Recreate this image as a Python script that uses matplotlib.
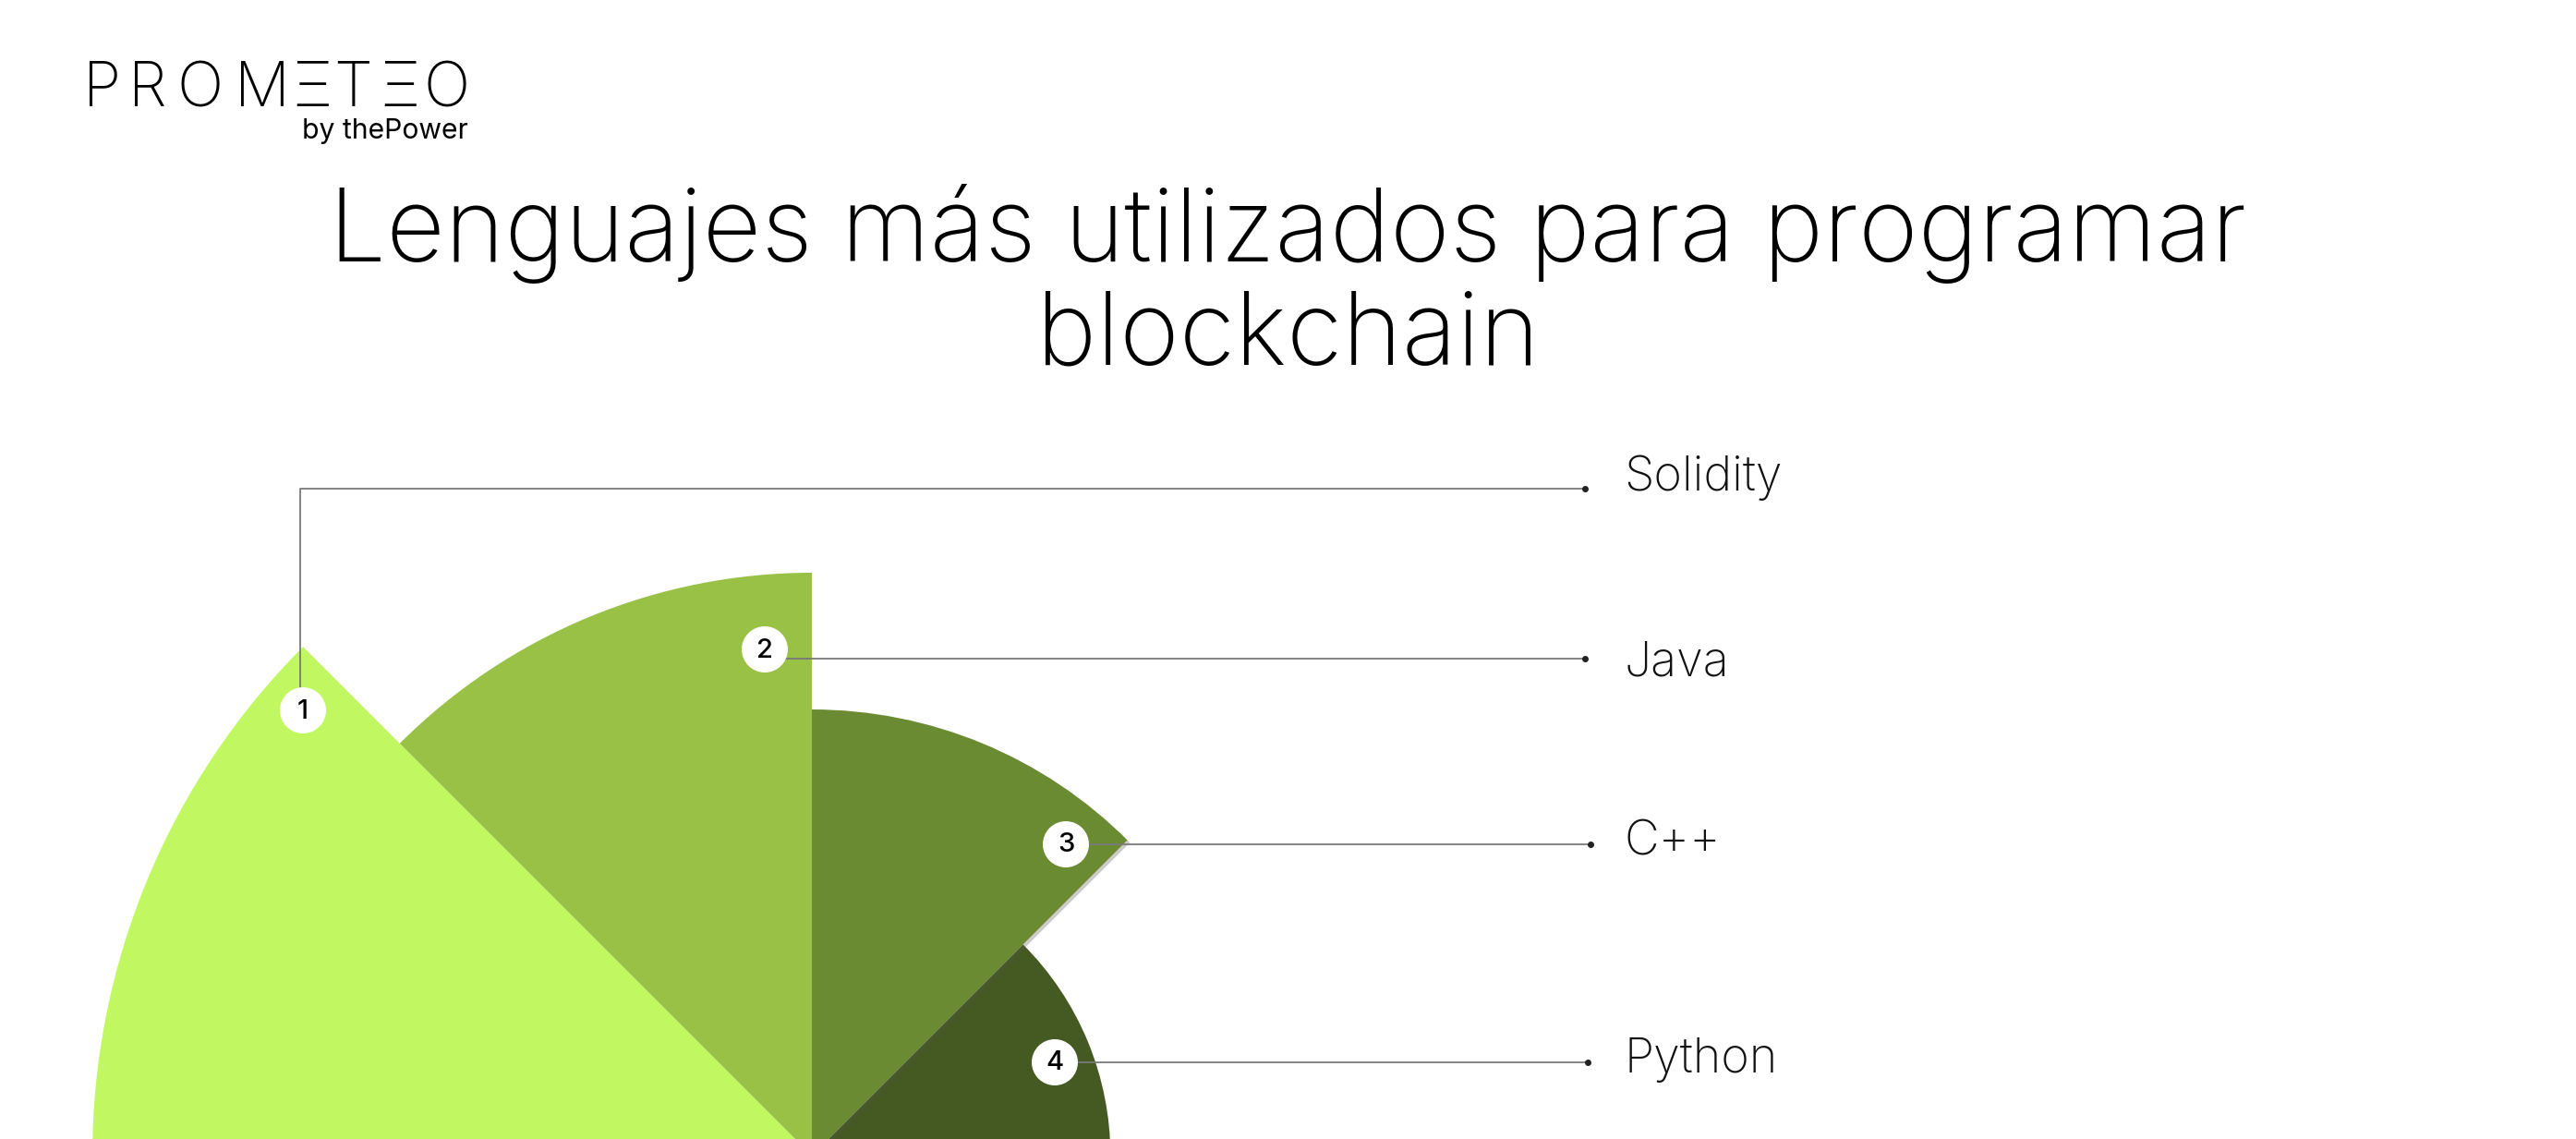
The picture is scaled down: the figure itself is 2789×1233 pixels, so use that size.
import numpy as np
import matplotlib
matplotlib.use('Agg')
import matplotlib.pyplot as plt
from matplotlib.patches import Circle
import matplotlib.patheffects as pe

# ---- data ----
languages = ['Solidity', 'Java', 'C++', 'Python']
ranks = ['1', '2', '3', '4']
values = [100, 81, 62, 41.5]
colors = ['#C1F760', '#98C146', '#6A8B32', '#455A22']
title_lines = ['Lenguajes más utilizados para programar', 'blockchain']
brand_letters = ['P', 'R', 'O', 'M', 'Ξ', 'T', 'Ξ', 'O']
brand_sub = 'by thePower'

FONT = ['Inter', 'DejaVu Sans']
plt.rcParams['font.family'] = FONT

W, H = 2789, 1233
fig = plt.figure(figsize=(W / 100, H / 100), dpi=100)
fig.patch.set_facecolor('white')

# ---- polar rose (half) ----
cx, cy = 879, 1251          # centre in pixels (top-down)
Rpx = 800
rmax = values[0] * Rpx / 779
ax = fig.add_axes([(cx - Rpx) / W, (H - cy - Rpx) / H, 2 * Rpx / W, 2 * Rpx / H],
                  projection='polar')
n = len(values)
width = np.pi / n
theta = np.pi - width * (np.arange(n) + 0.5)
bars = ax.bar(theta, values, width=width, bottom=0, color=colors,
              edgecolor='none', linewidth=0, align='center')
bars[2].set_zorder(3)
bars[2].set_path_effects([pe.SimplePatchShadow(offset=(2, -2), shadow_rgbFace='#555555', alpha=0.3),
                          pe.Normal()])
ax.set_ylim(0, rmax)
ax.set_axis_off()

# ---- overlay in pixel coords ----
ov = fig.add_axes([0, 0, 1, 1])
ov.set_xlim(0, W)
ov.set_ylim(H, 0)
ov.set_axis_off()
renderer = fig.canvas.get_renderer()


def fit_width(txt, target):
    w = txt.get_window_extent(renderer=renderer).width
    txt.set_fontsize(txt.get_fontsize() * target / w)
    return txt.get_fontsize()


line_col = '#7a7a7a'
marker_xy = [(328, 769), (828, 703), (1154, 914), (1142, 1150)]
leaders = [
    [(325, 760), (325, 529), (1716, 529)],
    [(840, 713), (1716, 713)],
    [(1160, 914), (1722, 914)],
    [(1150, 1150), (1719, 1150)],
]
label_xy = [(1758, 531), (1758, 731), (1758, 925), (1758, 1161)]

label_texts = []
for i, lang in enumerate(languages):
    pts = np.array(leaders[i])
    ov.plot(pts[:, 0], pts[:, 1], color=line_col, lw=1.3, solid_capstyle='butt', zorder=2)
    ov.plot(pts[-1, 0], pts[-1, 1], 'o', color='#222222', ms=4, zorder=3)
    mx, my = marker_xy[i]
    ov.add_patch(Circle((mx, my), 25, facecolor='white', edgecolor='none', zorder=4))
    ov.text(mx, my + 1, ranks[i], ha='center', va='center', fontsize=21,
            fontweight='medium', color='#000000', zorder=5)
    lx, ly = label_xy[i]
    label_texts.append(ov.text(lx, ly, lang, ha='left', va='baseline', fontsize=34,
                               fontweight='light', color='#111111'))
fs = fit_width(label_texts[0], 171)
for t in label_texts[1:]:
    t.set_fontsize(fs)

# ---- title ----
t1 = ov.text(W / 2, 283, title_lines[0], ha='center', va='baseline', fontsize=72,
             fontweight='light', color='#000000')
fs = fit_width(t1, 2074)
ov.text(W / 2, 394, title_lines[1], ha='center', va='baseline', fontsize=fs,
        fontweight='light', color='#000000')

# ---- brand ----
brand_x = [111, 160, 217, 284, 338, 382, 433, 484]
for ch, x in zip(brand_letters, brand_x):
    ov.text(x, 115, ch, ha='center', va='baseline', fontsize=48,
            fontweight='light', color='#000000')
bt = ov.text(507, 150, brand_sub, ha='right', va='baseline', fontsize=22,
             fontweight='normal', color='#000000')
fit_width(bt, 180)

fig.savefig('out.png', dpi=100, facecolor='white')
